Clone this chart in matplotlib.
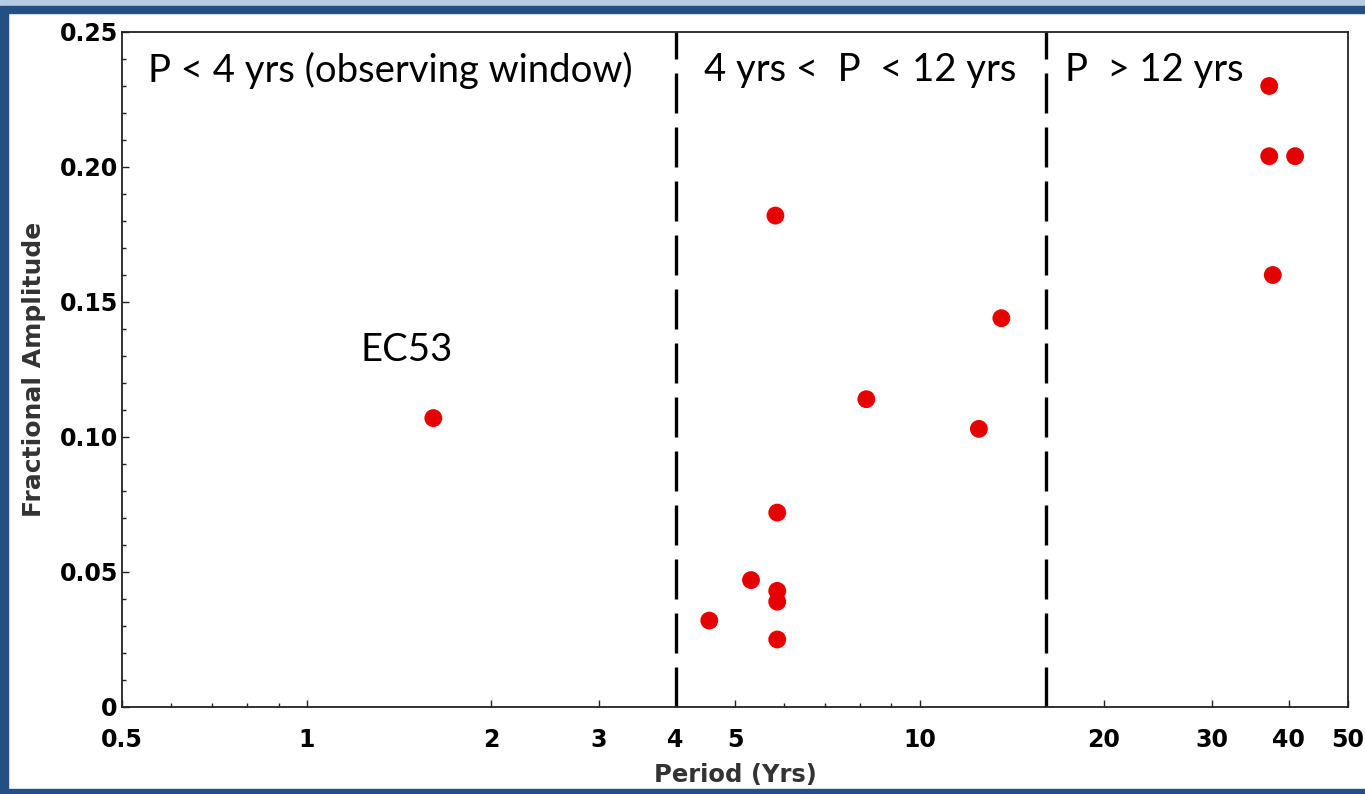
import numpy as np
import matplotlib
matplotlib.use('Agg')
import matplotlib.pyplot as plt
from matplotlib.patches import Rectangle
from matplotlib.ticker import FixedLocator, FixedFormatter, MultipleLocator, LogLocator, NullFormatter

# period (yrs) vs fractional amplitude
period = [1.61, 4.54, 5.31, 5.82, 5.86, 5.86, 5.86, 5.86, 8.19, 12.5, 13.6, 37.2, 37.2, 41.0, 37.7]
amplitude = [0.107, 0.032, 0.047, 0.182, 0.072, 0.043, 0.039, 0.025, 0.114, 0.103, 0.144, 0.230, 0.204, 0.204, 0.160]

boundaries = [4.0, 16.1]
x_ticks = [0.5, 1, 2, 3, 4, 5, 10, 20, 30, 40, 50]
x_tick_labels = ['0.5', '1', '2', '3', '4', '5', '10', '20', '30', '40', '50']
y_ticks = [0, 0.05, 0.10, 0.15, 0.20, 0.25]
y_tick_labels = ['0', '0.05', '0.10', '0.15', '0.20', '0.25']

region_labels = ['P < 4 yrs (observing window)', '4 yrs <  P  < 12 yrs', 'P  > 12 yrs']
region_x = [0.552, 4.45, 17.3]

fig = plt.figure(figsize=(13.65, 7.94), dpi=100)

# slide frame
fig.patches.append(Rectangle((0, 0.985), 1, 0.015, transform=fig.transFigure,
                             color='#b7cbe3', zorder=0))
fig.patches.append(Rectangle((0, 0.9835), 1, 0.0085, transform=fig.transFigure,
                             color='#244f85', zorder=1))
fig.patches.append(Rectangle((0, 0), 0.006, 0.99, transform=fig.transFigure,
                             color='#244f85', zorder=1))
fig.patches.append(Rectangle((0, 0), 1, 0.006, transform=fig.transFigure,
                             color='#244f85', zorder=1))

ax = fig.add_axes([0.0894, 0.1096, 0.8981, 0.8501])
ax.set_xscale('log')
ax.set_xlim(0.5, 50)
ax.set_ylim(0, 0.25)

for b in boundaries:
    ax.axvline(b, color='black', lw=2.4, dashes=(12, 4.2), zorder=2)

ax.scatter(period, amplitude, s=165, color='#e60000', edgecolors='none', zorder=3)

ax.xaxis.set_major_locator(FixedLocator(x_ticks))
ax.xaxis.set_major_formatter(FixedFormatter(x_tick_labels))
ax.xaxis.set_minor_locator(LogLocator(base=10, subs=np.arange(1, 10), numticks=20))
ax.xaxis.set_minor_formatter(NullFormatter())
ax.yaxis.set_major_locator(FixedLocator(y_ticks))
ax.yaxis.set_major_formatter(FixedFormatter(y_tick_labels))
ax.yaxis.set_minor_locator(MultipleLocator(0.01))

ax.tick_params(which='both', direction='in', top=False, right=False, width=1.0, colors='#222222')
ax.tick_params(which='major', length=5, labelsize=17, pad=3, labelcolor='black')
ax.tick_params(axis='x', which='major', pad=15)
ax.tick_params(which='minor', length=3)
for lab in ax.get_xticklabels() + ax.get_yticklabels():
    lab.set_fontweight('bold')
for s in ax.spines.values():
    s.set_linewidth(1.3)
    s.set_color('#222222')

ax.set_xlabel('Period (Yrs)', fontsize=17.5, fontweight='bold', labelpad=8, color='#333333')
ax.set_ylabel('Fractional Amplitude', fontsize=18, fontweight='bold', labelpad=10, color='#333333')

for x, t in zip(region_x, region_labels):
    ax.text(x, 0.2359, t, fontsize=27.5, family='Lato', va='center', ha='left')
ax.text(1.225, 0.1322, 'EC53', fontsize=27.5, family='Lato', va='center', ha='left')

fig.savefig('out.png', dpi=100)
